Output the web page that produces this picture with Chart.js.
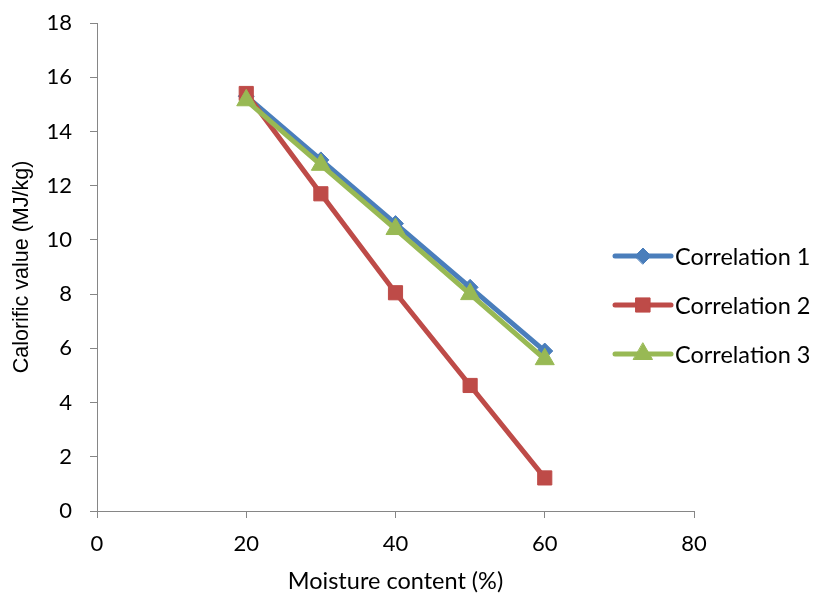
<!DOCTYPE html>
<html>
<head>
<meta charset="utf-8">
<script src="https://cdn.jsdelivr.net/npm/chart.js@4"></script>
<style>
html,body{margin:0;padding:0;background:#fff;}
#wrap{width:817px;height:596px;position:relative;}
</style>
</head>
<body>
<div id="wrap"><canvas id="c" width="817" height="596"></canvas></div>
<script>
const moisture = [20, 30, 40, 50, 60];
const correlation1 = [15.3, 12.95, 10.6, 8.25, 5.9];
const correlation2 = [15.4, 11.7, 8.05, 4.63, 1.22];
const correlation3 = [15.15, 12.77, 10.4, 8.0, 5.6];
const seriesNames = ['Correlation 1', 'Correlation 2', 'Correlation 3'];
const xTicks = [0, 20, 40, 60, 80];
const yTicks = [0, 2, 4, 6, 8, 10, 12, 14, 16, 18];

const colors = ['#4A7EBB', '#BE4B48', '#98B954'];
const styles = ['rectRot', 'rect', 'triangle'];
const radii = [8, 10, 11];
const FONT = 'Lato, "Open Sans", sans-serif';
const YFONT = '"Liberation Sans", Arial, sans-serif';

function toPoints(ys) { return moisture.map((x, i) => ({x: x, y: ys[i]})); }
const allSeries = [correlation1, correlation2, correlation3];

const legendPlugin = {
  id: 'customLegend',
  afterDraw(chart) {
    const ctx = chart.ctx;
    const x0 = 615, x1 = 671, tx = 675;
    const ys = [256, 305, 354];
    ctx.save();
    seriesNames.forEach((name, i) => {
      ctx.strokeStyle = colors[i];
      ctx.lineWidth = 5;
      ctx.lineCap = 'round';
      ctx.beginPath();
      ctx.moveTo(x0, ys[i]);
      ctx.lineTo(x1, ys[i]);
      ctx.stroke();
      ctx.fillStyle = colors[i];
      ctx.strokeStyle = colors[i];
      ctx.lineWidth = 1;
      Chart.helpers.drawPoint(ctx, {pointStyle: styles[i], radius: radii[i], borderWidth: 1, rotation: 0}, (x0 + x1) / 2, ys[i]);
      ctx.fillStyle = '#000';
      ctx.font = '23.5px ' + FONT;
      ctx.textBaseline = 'middle';
      ctx.textAlign = 'left';
      ctx.fillText(name, tx, ys[i] + 1);
    });
    ctx.restore();
  }
};

new Chart(document.getElementById('c'), {
  type: 'line',
  data: {
    datasets: allSeries.map((s, i) => ({
      label: seriesNames[i],
      data: toPoints(s),
      borderColor: colors[i],
      backgroundColor: colors[i],
      borderWidth: 5,
      pointStyle: styles[i],
      pointRadius: radii[i],
      pointBorderWidth: 1,
      pointBorderColor: colors[i],
      pointBackgroundColor: colors[i],
      order: 2 - i,
      tension: 0
    }))
  },
  options: {
    responsive: false,
    animation: false,
    devicePixelRatio: 1,
    layout: {padding: {top: 23, right: 123, left: 0, bottom: 0}},
    plugins: {legend: {display: false}, tooltip: {enabled: false}},
    scales: {
      x: {
        type: 'linear',
        min: 0, max: 80,
        afterBuildTicks(scale) { scale.ticks = xTicks.map(v => ({value: v})); },
        afterFit(scale) { scale.height = 85; scale.paddingLeft = 0; scale.paddingRight = 0; },
        grid: {display: true, drawOnChartArea: false, drawTicks: true, tickLength: 7, color: '#868686'},
        border: {color: '#868686', width: 1},
        ticks: {color: '#000', font: {size: 22, family: FONT}, padding: 13},
        title: {display: true, text: 'Moisture content (%)', color: '#000', font: {size: 23.5, family: FONT}, padding: {top: 4, bottom: 0}}
      },
      y: {
        type: 'linear',
        min: 0, max: 18,
        afterBuildTicks(scale) { scale.ticks = yTicks.map(v => ({value: v})); },
        afterFit(scale) { scale.width = 97; scale.paddingTop = 0; scale.paddingBottom = 0; },
        grid: {display: true, drawOnChartArea: false, drawTicks: true, tickLength: 7, color: '#868686'},
        border: {color: '#868686', width: 1},
        ticks: {color: '#000', font: {size: 22, family: FONT}, padding: 18},
        title: {display: true, text: 'Calorific value (MJ/kg)', color: '#000', font: {size: 21.5, family: YFONT}, padding: {top: 9, bottom: 0}}
      }
    }
  },
  plugins: [legendPlugin]
});
</script>
</body>
</html>
